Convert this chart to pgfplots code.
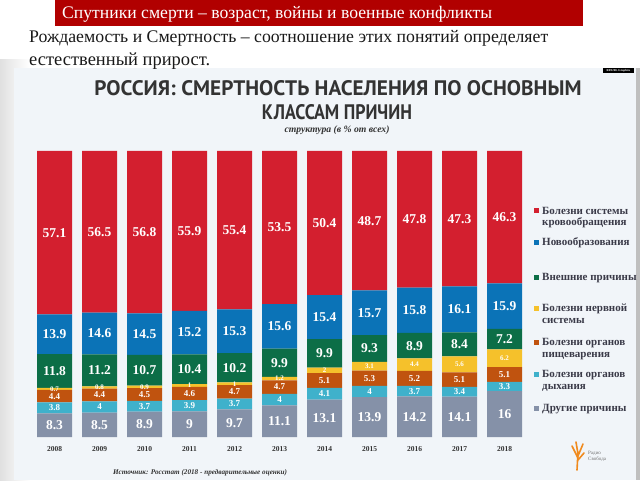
\documentclass[border=0pt]{standalone}
\usepackage{pgfplots}
\pgfplotsset{compat=1.18}
\usepackage{fontspec}
\setmainfont{Liberation Serif}
\newfontfamily\ptsans{PT Sans}
\definecolor{cRed}{HTML}{D31F2F}
\definecolor{cBlue}{HTML}{0B73B7}
\definecolor{cGreen}{HTML}{0C6E47}
\definecolor{cYellow}{HTML}{F5C12B}
\definecolor{cOrange}{HTML}{C0530F}
\definecolor{cLBlue}{HTML}{3FB1CB}
\definecolor{cGrey}{HTML}{8591A8}
\definecolor{panel}{HTML}{F1F5F9}
\definecolor{titlered}{HTML}{B10000}
\definecolor{dtext}{HTML}{333333}
\definecolor{ltext}{HTML}{3A3A48}
\definecolor{logoorange}{HTML}{F08A1E}
\newcommand\bignum{\fontsize{13.5}{14}\selectfont\bfseries}
\newcommand\midnum{\fontsize{9}{10}\selectfont\bfseries}
\newcommand\smallnum{\fontsize{7}{8}\selectfont\bfseries}
\newcommand\legfont{\fontsize{11}{12}\selectfont\bfseries}
\begin{document}
\begin{tikzpicture}[x=1pt,y=1pt]
\useasboundingbox (0,0) rectangle (640,480);
\fill[white] (0,0) rectangle (640,480);
\shade[left color=black!12, right color=white] (0,0) rectangle (30,420);
% panel
\fill[panel] (14,0) rectangle (637,412);
\fill[black!25] (636,0) rectangle (640,412);
% title bar
\fill[titlered] (55,454) rectangle (583,480);
\node[anchor=base west, inner sep=0, text=white] at (62,461) {\resizebox{430pt}{!}{\fontsize{20}{22}\selectfont Спутники смерти – возраст, войны и военные конфликты}};
\node[anchor=base west, inner sep=0, text=black!90] at (29,437) {\resizebox{519pt}{!}{\fontsize{19}{22}\selectfont Рождаемость и Смертность – соотношение этих понятий определяет}};
\node[anchor=base west, inner sep=0, text=black!90] at (29,414) {\resizebox{181pt}{!}{\fontsize{19}{22}\selectfont естественный прирост.}};
% chart titles
\node[anchor=base, inner sep=0, text=dtext] at (338,384) {\resizebox{487pt}{15pt}{\ptsans\bfseries РОССИЯ: СМЕРТНОСТЬ НАСЕЛЕНИЯ ПО ОСНОВНЫМ}};
\node[anchor=base, inner sep=0, text=dtext] at (337,360) {\resizebox{150pt}{15pt}{\ptsans\bfseries КЛАССАМ ПРИЧИН}};
\node[anchor=base, inner sep=0, text=dtext] at (337,347) {\resizebox{105pt}{!}{\fontsize{9}{10}\selectfont\bfseries\itshape структура (в \% от всех)}};
% tag
\fill[black] (603,407) rectangle (634,412);
\node[text=white, inner sep=0, font=\fontsize{3}{3}\selectfont\bfseries] at (618.5,409.5) {RFE/RL Graphics};

\begin{axis}[
  at={(32pt,43pt)}, anchor=south west,
  scale only axis, width=495pt, height=286pt,
  xmin=-0.5, xmax=10.5, ymin=0, ymax=100,
  ybar stacked, bar width=35pt,
  axis line style={draw=none}, tick style={draw=none},
  ytick=\empty,
  xtick={0,...,10},
  xticklabels={2008,2009,2010,2011,2012,2013,2014,2015,2016,2017,2018},
  xticklabel style={font=\fontsize{7.5}{8}\selectfont\bfseries, text=dtext, anchor=base, yshift=-14pt},
  /pgf/number format/assume math mode=true,
  nodes near coords, point meta=rawy,
  every node near coord/.append style={text=white, anchor=center, inner sep=0pt},
  clip=false,
]
\addplot[fill=cGrey, draw=none, every node near coord/.append style={font=\bignum}] coordinates {(0,8.3) (1,8.5) (2,8.9) (3,9) (4,9.7) (5,11.1) (6,13.1) (7,13.9) (8,14.2) (9,14.1) (10,16)};
\addplot[fill=cLBlue, draw=none, every node near coord/.append style={font=\midnum}] coordinates {(0,3.8) (1,4) (2,3.7) (3,3.9) (4,3.7) (5,4) (6,4.1) (7,4) (8,3.7) (9,3.4) (10,3.3)};
\addplot[fill=cOrange, draw=none, every node near coord/.append style={font=\midnum}] coordinates {(0,4.4) (1,4.4) (2,4.5) (3,4.6) (4,4.7) (5,4.7) (6,5.1) (7,5.3) (8,5.2) (9,5.1) (10,5.1)};
\addplot[fill=cYellow, draw=none, every node near coord/.append style={font=\smallnum}] coordinates {(0,0.7) (1,0.8) (2,0.9) (3,1) (4,1) (5,1.2) (6,2) (7,3.1) (8,4.4) (9,5.6) (10,6.2)};
\addplot[fill=cGreen, draw=none, every node near coord/.append style={font=\bignum}] coordinates {(0,11.8) (1,11.2) (2,10.7) (3,10.4) (4,10.2) (5,9.9) (6,9.9) (7,9.3) (8,8.9) (9,8.4) (10,7.2)};
\addplot[fill=cBlue, draw=none, every node near coord/.append style={font=\bignum}] coordinates {(0,13.9) (1,14.6) (2,14.5) (3,15.2) (4,15.3) (5,15.6) (6,15.4) (7,15.7) (8,15.8) (9,16.1) (10,15.9)};
\addplot[fill=cRed, draw=none, every node near coord/.append style={font=\bignum}] coordinates {(0,57.1) (1,56.5) (2,56.8) (3,55.9) (4,55.4) (5,53.5) (6,50.4) (7,48.7) (8,47.8) (9,47.3) (10,46.3)};
\end{axis}

% legend
\begin{scope}[every node/.style={anchor=base west, inner sep=0, text=ltext, align=left, font=\legfont}]
\fill[cRed] (534,266.5) rectangle (539,271.5);
\node at (542,254) {Болезни системы\\кровообращения};
\fill[cBlue] (534,234.5) rectangle (539,239.5);
\node at (542,234) {Новообразования};
\fill[cGreen] (534,200.5) rectangle (539,205.5);
\node at (542,200) {Внешние причины};
\fill[cYellow] (534,169.5) rectangle (539,174.5);
\node at (542,157) {Болезни нервной\\системы};
\fill[cOrange] (534,135.5) rectangle (539,140.5);
\node at (542,123) {Болезни органов\\пищеварения};
\fill[cLBlue] (534,103.5) rectangle (539,108.5);
\node at (542,91) {Болезни органов\\дыхания};
\fill[cGrey] (534,69.5) rectangle (539,74.5);
\node at (542,69) {Другие причины};
\end{scope}
% source
\node[anchor=base, inner sep=0, text=dtext] at (200,6) {\resizebox{174pt}{!}{\fontsize{8}{9}\selectfont\bfseries\itshape Источник: Росстат (2018 - предварительные оценки)}};
% logo
\begin{scope}[logoorange, line width=1.6pt, line cap=round]
\draw (577,10) -- (578,28);
\draw (578,22) -- (572,34);
\draw (578,24) -- (583,36);
\draw (578,26) -- (576,38);
\draw (578,20) -- (584,27);
\end{scope}
\node[anchor=west, inner sep=0, text=black!55, align=left, font=\fontsize{5}{6}\selectfont] at (588,24) {Радио\\Свобода};
\end{tikzpicture}
\end{document}
